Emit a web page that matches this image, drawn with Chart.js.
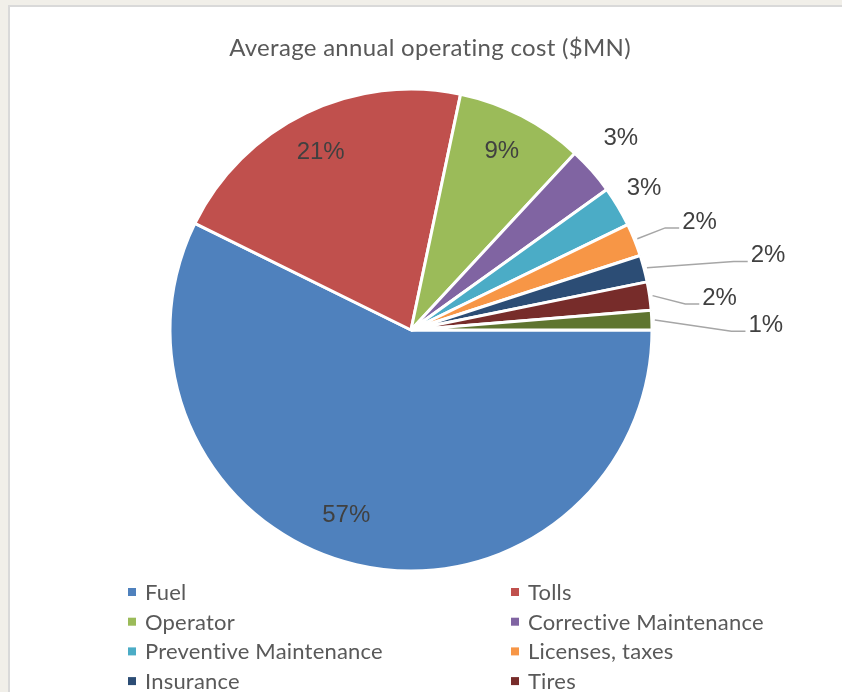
<!DOCTYPE html>
<html>
<head>
<meta charset="utf-8">
<title>Average annual operating cost</title>
<script src="https://cdn.jsdelivr.net/npm/chart.js@4.4.1/dist/chart.umd.min.js"></script>
<style>
    html, body { margin: 0; padding: 0; overflow: hidden; }
    body { width: 842px; height: 692px; background: #f1efe9; position: relative; }
    .card {
        position: absolute; left: 8px; top: 5px; width: 900px; height: 800px;
        background: #ffffff; border-left: 2px solid #d9d9d9; border-top: 2px solid #d9d9d9;
    }
    #costChart { position: absolute; left: 0; top: 0; }
</style>
</head>
<body>
<div class="card"></div>
<canvas id="costChart" width="842" height="692"></canvas>
<script>
// Average annual operating cost - pie chart

// Data
const chartTitle = 'Average annual operating cost ($MN)';
const categories = ['Fuel', 'Tolls', 'Operator', 'Corrective Maintenance', 'Preventive Maintenance',
    'Licenses, taxes', 'Insurance', 'Tires', 'Other'];
const costShares = [57.3, 21.0, 8.6, 3.2, 2.7, 2.2, 1.8, 1.9, 1.3];

// Styles
const sliceColors = ['#4f81bd', '#c0504d', '#9bbb59', '#8064a2', '#4bacc6',
    '#f79646', '#2c4d75', '#772c2a', '#5f7530'];
// label offset from the slice's outer edge (at mid angle), and whether a leader line is drawn
const labelOffsets = [[-10, -49], [15, 39], [-20, 35], [29, -32], [26, -18],
    [65, -18], [124, -13], [70, 2], [114, 5]];
const leaderLines = [false, false, false, false, false, true, true, true, true];

const TEXT_GREY = '#595959';
const LABEL_GREY = '#404040';

// Title drawn above the pie
const titlePlugin = {
    id: 'excelTitle',
    afterDraw(chart) {
        const ctx = chart.ctx;
        ctx.save();
        ctx.font = '24px Lato';
        ctx.letterSpacing = '0.3px'; // also stops the Lato "ti" ligature
        ctx.fillStyle = TEXT_GREY;
        ctx.textAlign = 'center';
        ctx.textBaseline = 'middle';
        ctx.fillText(chartTitle, 430, 48);
        ctx.restore();
    }
};

// Percentage labels, with leader lines for the small slices
const pctLabelPlugin = {
    id: 'pctLabels',
    afterDatasetsDraw(chart) {
        const ctx = chart.ctx;
        const meta = chart.getDatasetMeta(0);
        const values = chart.data.datasets[0].data;
        const total = values.reduce((a, b) => a + b, 0);

        ctx.save();
        ctx.font = '24px "Liberation Sans", Arial, sans-serif';
        ctx.textBaseline = 'middle';

        meta.data.forEach((arc, i) => {
            const p = arc.getProps(['x', 'y', 'startAngle', 'endAngle', 'outerRadius'], true);
            const mid = (p.startAngle + p.endAngle) / 2;
            const ex = p.x + Math.cos(mid) * p.outerRadius;
            const ey = p.y + Math.sin(mid) * p.outerRadius;
            const lx = ex + labelOffsets[i][0];
            const ly = ey + labelOffsets[i][1];
            const text = Math.round(values[i] / total * 100) + '%';
            const w = ctx.measureText(text).width;

            if (leaderLines[i]) {
                const left = lx - w / 2;
                ctx.strokeStyle = '#a6a6a6';
                ctx.lineWidth = 1.5;
                ctx.beginPath();
                ctx.moveTo(p.x + Math.cos(mid) * (p.outerRadius + 3), p.y + Math.sin(mid) * (p.outerRadius + 3));
                ctx.lineTo(left - 17, ly + 6);
                ctx.lineTo(left - 3, ly + 6);
                ctx.stroke();
            }

            ctx.fillStyle = LABEL_GREY;
            ctx.textAlign = 'center';
            ctx.fillText(text, lx, ly);
        });
        ctx.restore();
    }
};

// Two-column legend under the pie
const legendPlugin = {
    id: 'twoColLegend',
    afterDraw(chart) {
        const ctx = chart.ctx;
        const colX = [128, 511];
        const firstRow = 592;
        const rowStep = 29.7;

        ctx.save();
        ctx.font = '22px Lato';
        ctx.letterSpacing = '0.2px';
        ctx.textBaseline = 'middle';
        ctx.textAlign = 'left';
        chart.data.labels.forEach((label, i) => {
            const x = colX[i % 2];
            const y = firstRow + Math.floor(i / 2) * rowStep;
            ctx.fillStyle = sliceColors[i];
            ctx.fillRect(x, y - 4, 8, 8);
            ctx.fillStyle = TEXT_GREY;
            ctx.fillText(label, x + 17, y + 1);
        });
        ctx.restore();
    }
};

const ctx = document.getElementById('costChart').getContext('2d');
const costChart = new Chart(ctx, {
    type: 'pie',
    data: {
        labels: categories,
        datasets: [{
            data: costShares,
            backgroundColor: sliceColors,
            borderColor: '#ffffff',
            borderWidth: 3
        }]
    },
    options: {
        responsive: false,
        animation: false,
        rotation: 90,
        radius: 241,
        layout: {
            padding: { left: 40, right: 60, top: 60, bottom: 92 }
        },
        plugins: {
            legend: { display: false },
            title: { display: false },
            tooltip: { enabled: false }
        }
    },
    plugins: [titlePlugin, pctLabelPlugin, legendPlugin]
});
</script>
</body>
</html>
